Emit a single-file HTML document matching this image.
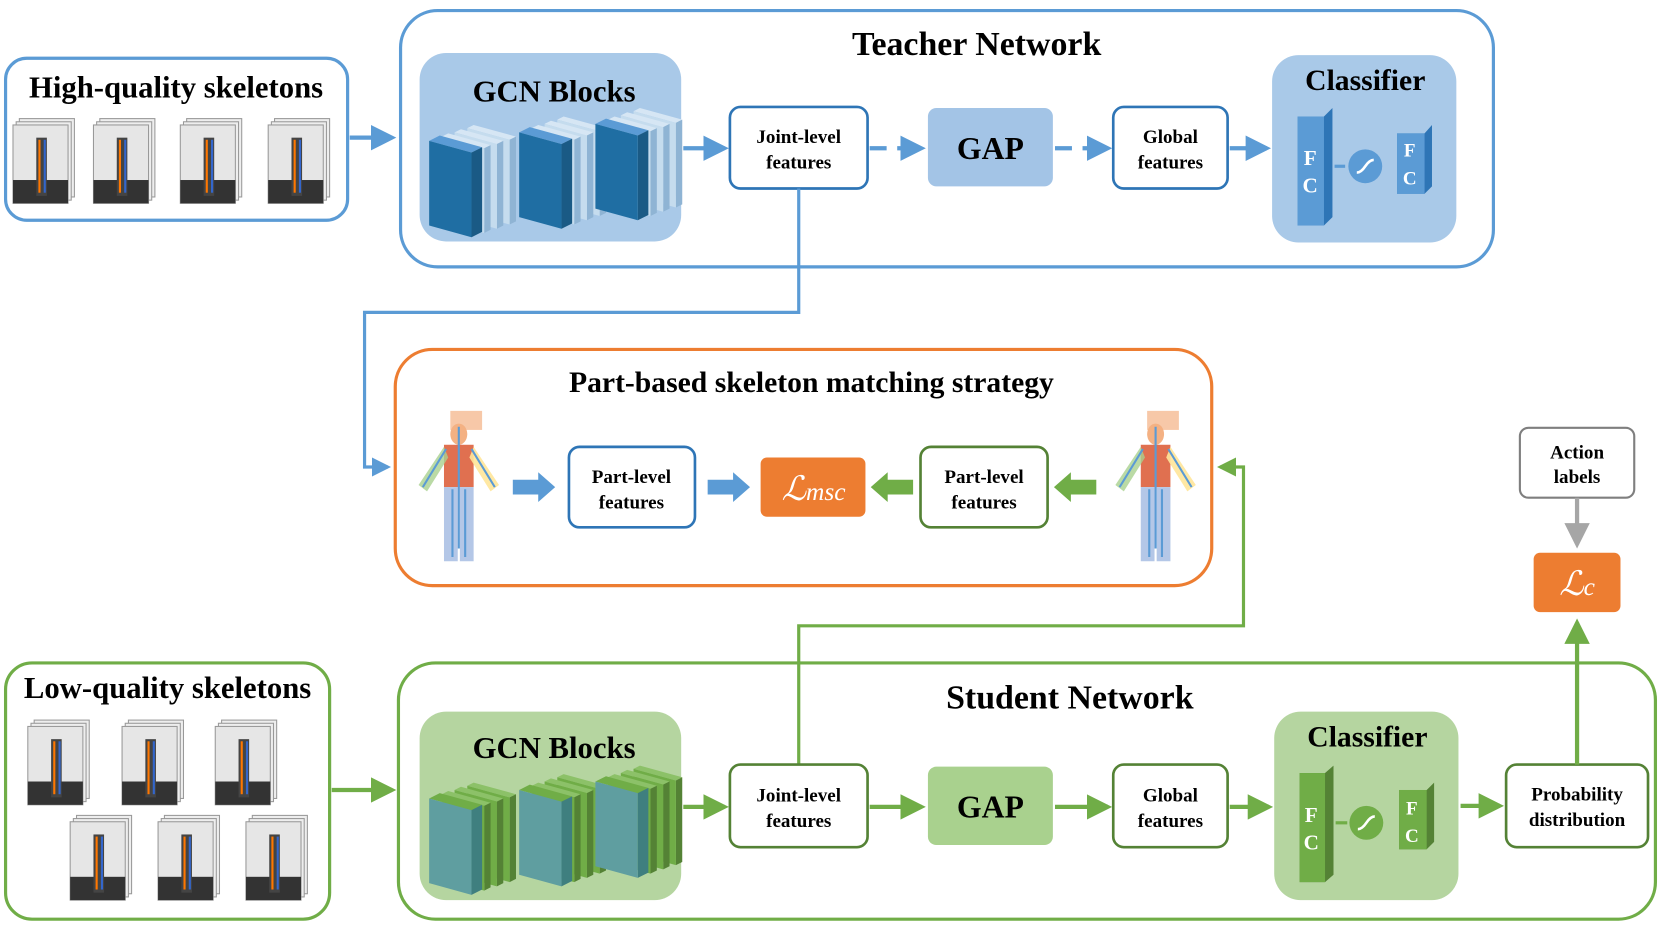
<!DOCTYPE html>
<html><head><meta charset="utf-8"><style>
html,body{margin:0;padding:0;background:#fff;width:1661px;height:934px;overflow:hidden}
text{font-family:"Liberation Serif",serif;font-weight:bold;fill:#000;text-anchor:middle}
</style></head><body>
<svg width="1661" height="934" viewBox="0 0 1568 882" xmlns="http://www.w3.org/2000/svg">
<defs>
<marker id="ab" markerWidth="6" markerHeight="6" refX="5" refY="3" orient="auto" markerUnits="strokeWidth"><path d="M0,0L6,3L0,6z" fill="#5b9bd5"/></marker>
<marker id="ag" markerWidth="6" markerHeight="6" refX="5" refY="3" orient="auto" markerUnits="strokeWidth"><path d="M0,0L6,3L0,6z" fill="#70ad47"/></marker>
<marker id="ay" markerWidth="6" markerHeight="6" refX="5" refY="3" orient="auto" markerUnits="strokeWidth"><path d="M0,0L6,3L0,6z" fill="#a6a6a6"/></marker>
<g id="thumb"><rect x="6" y="0" width="52" height="74" fill="#eee" stroke="#999"/><rect x="3" y="3" width="52" height="74" fill="#eee" stroke="#999"/><rect x="0" y="6" width="52" height="74" fill="#e6e6e6" stroke="#999"/><rect x="0" y="58" width="52" height="22" fill="#333"/><rect x="22" y="18" width="10" height="55" fill="#444"/><line x1="25" y1="20" x2="25" y2="70" stroke="#f70" stroke-width="2"/><line x1="30" y1="20" x2="30" y2="70" stroke="#36c" stroke-width="2"/></g>
<g id="slabB"><polygon points="0,0 6,-3 46,8 40,11" fill="#d6e6f4"/><polygon points="40,11 46,8 46,88 40,91" fill="#8fb4d4"/><polygon points="0,0 40,11 40,91 0,80" fill="#c5dcee"/></g>
<g id="blkB">
<use href="#slabB" x="36" y="-12"/><use href="#slabB" x="24" y="-8"/><use href="#slabB" x="12" y="-4"/>
<polygon points="0,0 10,-5 50,6 40,11" fill="#5b9bd5"/>
<polygon points="40,11 50,6 50,86 40,91" fill="#1a5a85"/>
<polygon points="0,0 40,11 40,91 0,80" fill="#1f6ea3"/>
</g>
<g id="slabG"><polygon points="0,0 6,-3 46,8 40,11" fill="#8cc168"/><polygon points="40,11 46,8 46,88 40,91" fill="#548235"/><polygon points="0,0 40,11 40,91 0,80" fill="#70ad47"/></g>
<g id="blkG">
<use href="#slabG" x="36" y="-12"/><use href="#slabG" x="24" y="-8"/><use href="#slabG" x="12" y="-4"/>
<polygon points="0,0 10,-5 50,6 40,11" fill="#70ad47"/>
<polygon points="40,11 50,6 50,86 40,91" fill="#3f7f7f"/>
<polygon points="0,0 40,11 40,91 0,80" fill="#5f9ea0"/>
</g>
<g id="body"><rect x="40" y="0" width="30" height="18" fill="#f4b183" opacity=".7"/><ellipse cx="48" cy="22" rx="8" ry="10" fill="#f4b183"/><rect x="34" y="32" width="28" height="40" fill="#e07050"/><path d="M34,34 L10,70 L18,76 L38,44z" fill="#a9d18e" opacity=".8"/><path d="M62,34 L86,70 L78,76 L58,44z" fill="#ffe699" opacity=".9"/><rect x="34" y="72" width="13" height="70" fill="#b4c7e7"/><rect x="49" y="72" width="13" height="70" fill="#b4c7e7"/><path d="M48,15 V130 M36,36 L14,72 M60,36 L82,72 M42,74 V138 M54,74 V138" stroke="#5b9bd5" stroke-width="2" fill="none"/></g>
</defs>

<!-- High quality -->
<rect x="5" y="55" width="323" height="153" rx="20" fill="#fff" stroke="#5b9bd5" stroke-width="3"/>
<text x="166" y="92" font-size="29">High-quality skeletons</text>
<use href="#thumb" x="12" y="112"/><use href="#thumb" x="88" y="112"/><use href="#thumb" x="170" y="112"/><use href="#thumb" x="253" y="112"/>
<line x1="330" y1="130" x2="370" y2="130" stroke="#5b9bd5" stroke-width="4" marker-end="url(#ab)"/>

<!-- Teacher -->
<rect x="378" y="10" width="1032" height="242" rx="35" fill="#fff" stroke="#5b9bd5" stroke-width="3"/>
<text x="922" y="52" font-size="32">Teacher Network</text>
<rect x="396" y="50" width="247" height="178" rx="25" fill="#a9c9e8"/>
<text x="523" y="96" font-size="29">GCN  Blocks</text>
<use href="#blkB" x="405" y="133"/><use href="#blkB" x="490" y="125"/><use href="#blkB" x="562" y="117"/>
<line x1="645" y1="140" x2="684" y2="140" stroke="#5b9bd5" stroke-width="4" marker-end="url(#ab)"/>
<rect x="689" y="101" width="130" height="77" rx="10" fill="#fff" stroke="#2e75b6" stroke-width="2.5"/>
<text x="754" y="135" font-size="18">Joint-level</text><text x="754" y="159" font-size="18">features</text>
<line x1="821" y1="140" x2="870" y2="140" stroke="#5b9bd5" stroke-width="4" stroke-dasharray="16,10" marker-end="url(#ab)"/>
<rect x="876" y="102" width="118" height="74" rx="8" fill="#a3c4e6"/><text x="935" y="150" font-size="30">GAP</text>
<line x1="996" y1="140" x2="1046" y2="140" stroke="#5b9bd5" stroke-width="4" stroke-dasharray="16,10" marker-end="url(#ab)"/>
<rect x="1051" y="101" width="108" height="77" rx="10" fill="#fff" stroke="#2e75b6" stroke-width="2.5"/>
<text x="1105" y="135" font-size="18">Global</text><text x="1105" y="159" font-size="18">features</text>
<line x1="1161" y1="140" x2="1196" y2="140" stroke="#5b9bd5" stroke-width="4" marker-end="url(#ab)"/>
<rect x="1201" y="52" width="174" height="177" rx="25" fill="#a9c9e8"/>
<text x="1289" y="85" font-size="28">Classifier</text>
<polygon points="1225,110 1250,110 1258,102 1258,205 1250,213 1225,213" fill="#2e75b6"/><rect x="1225" y="110" width="25" height="103" fill="#5b9bd5"/>
<text x="1237" y="156" font-size="20" style="fill:#fff">F</text><text x="1237" y="182" font-size="20" style="fill:#fff">C</text>
<line x1="1260" y1="157" x2="1270" y2="157" stroke="#5b9bd5" stroke-width="3"/>
<circle cx="1289" cy="157" r="16" fill="#5b9bd5"/><path d="M1281,163 q4,0 8,-6 q4,-6 8,-6" stroke="#fff" stroke-width="2.5" fill="none"/>
<polygon points="1319,126 1345,126 1352,118 1352,176 1345,183 1319,183" fill="#2e75b6"/><rect x="1319" y="126" width="26" height="57" fill="#5b9bd5"/>
<text x="1331" y="148" font-size="18" style="fill:#fff">F</text><text x="1331" y="174" font-size="18" style="fill:#fff">C</text>

<polyline points="754,178 754,295 344,295 344,441 366,441" fill="none" stroke="#5b9bd5" stroke-width="3" marker-end="url(#ab)"/>

<!-- Part -->
<rect x="373" y="330" width="771" height="223" rx="35" fill="#fff" stroke="#ed7d31" stroke-width="3"/>
<text x="766" y="370" font-size="28">Part-based skeleton matching strategy</text>
<use href="#body" x="385" y="388"/><use href="#body" x="1043" y="388"/>
<polygon points="484,453 508,453 508,446 524,460 508,474 508,467 484,467" fill="#5b9bd5"/>
<rect x="537" y="422" width="119" height="76" rx="10" fill="#fff" stroke="#2e75b6" stroke-width="2.5"/>
<text x="596" y="456" font-size="18">Part-level</text><text x="596" y="480" font-size="18">features</text>
<polygon points="668,453 692,453 692,446 708,460 692,474 692,467 668,467" fill="#5b9bd5"/>
<rect x="718" y="432" width="99" height="56" rx="6" fill="#ed7d31"/>
<text x="768" y="472" font-size="32" style="fill:#fff;font-style:italic;font-weight:normal">ℒ<tspan font-size="24">msc</tspan></text>
<polygon points="862,453 838,453 838,446 822,460 838,474 838,467 862,467" fill="#70ad47"/>
<rect x="869" y="422" width="120" height="76" rx="10" fill="#fff" stroke="#548235" stroke-width="2.5"/>
<text x="929" y="456" font-size="18">Part-level</text><text x="929" y="480" font-size="18">features</text>
<polygon points="1035,453 1011,453 1011,446 995,460 1011,474 1011,467 1035,467" fill="#70ad47"/>

<polyline points="754,722 754,591 1174,591 1174,441 1152,441" fill="none" stroke="#70ad47" stroke-width="3" marker-end="url(#ag)"/>

<rect x="1435" y="404" width="108" height="66" rx="8" fill="#fff" stroke="#7f7f7f" stroke-width="2"/>
<text x="1489" y="433" font-size="18">Action</text><text x="1489" y="456" font-size="18">labels</text>
<line x1="1489" y1="470" x2="1489" y2="514" stroke="#a6a6a6" stroke-width="4" marker-end="url(#ay)"/>
<rect x="1448" y="522" width="82" height="56" rx="6" fill="#ed7d31"/>
<text x="1489" y="562" font-size="32" style="fill:#fff;font-style:italic;font-weight:normal">ℒ<tspan font-size="24">c</tspan></text>

<!-- Low quality -->
<rect x="5" y="626" width="306" height="242" rx="25" fill="#fff" stroke="#70ad47" stroke-width="3"/>
<text x="158" y="659" font-size="29">Low-quality skeletons</text>
<use href="#thumb" x="26" y="680"/><use href="#thumb" x="115" y="680"/><use href="#thumb" x="203" y="680"/>
<use href="#thumb" x="66" y="770"/><use href="#thumb" x="149" y="770"/><use href="#thumb" x="232" y="770"/>
<line x1="313" y1="746" x2="370" y2="746" stroke="#70ad47" stroke-width="4" marker-end="url(#ag)"/>

<!-- Student -->
<rect x="376" y="626" width="1187" height="242" rx="35" fill="none" stroke="#70ad47" stroke-width="3"/>
<text x="1010" y="669" font-size="32">Student Network</text>
<rect x="396" y="672" width="247" height="178" rx="25" fill="#b5d5a0"/>
<text x="523" y="716" font-size="29">GCN  Blocks</text>
<use href="#blkG" x="405" y="754"/><use href="#blkG" x="490" y="746"/><use href="#blkG" x="562" y="738"/>
<line x1="645" y1="762" x2="684" y2="762" stroke="#70ad47" stroke-width="4" marker-end="url(#ag)"/>
<rect x="689" y="722" width="130" height="78" rx="10" fill="#fff" stroke="#548235" stroke-width="2.5"/>
<text x="754" y="757" font-size="18">Joint-level</text><text x="754" y="781" font-size="18">features</text>
<line x1="821" y1="762" x2="870" y2="762" stroke="#70ad47" stroke-width="4" marker-end="url(#ag)"/>
<rect x="876" y="724" width="118" height="74" rx="8" fill="#a9d18e"/><text x="935" y="772" font-size="30">GAP</text>
<line x1="996" y1="762" x2="1046" y2="762" stroke="#70ad47" stroke-width="4" marker-end="url(#ag)"/>
<rect x="1051" y="722" width="108" height="78" rx="10" fill="#fff" stroke="#548235" stroke-width="2.5"/>
<text x="1105" y="757" font-size="18">Global</text><text x="1105" y="781" font-size="18">features</text>
<line x1="1161" y1="762" x2="1198" y2="762" stroke="#70ad47" stroke-width="4" marker-end="url(#ag)"/>
<rect x="1203" y="672" width="174" height="178" rx="25" fill="#b5d5a0"/>
<text x="1291" y="705" font-size="28">Classifier</text>
<polygon points="1227,730 1251,730 1259,723 1259,826 1251,833 1227,833" fill="#548235"/><rect x="1227" y="730" width="24" height="103" fill="#70ad47"/>
<text x="1238" y="776" font-size="20" style="fill:#fff">F</text><text x="1238" y="802" font-size="20" style="fill:#fff">C</text>
<line x1="1261" y1="777" x2="1272" y2="777" stroke="#70ad47" stroke-width="3"/>
<circle cx="1290" cy="777" r="16" fill="#70ad47"/><path d="M1282,783 q4,0 8,-6 q4,-6 8,-6" stroke="#fff" stroke-width="2.5" fill="none"/>
<polygon points="1321,746 1347,746 1354,739 1354,795 1347,802 1321,802" fill="#548235"/><rect x="1321" y="746" width="26" height="56" fill="#70ad47"/>
<text x="1333" y="769" font-size="18" style="fill:#fff">F</text><text x="1333" y="795" font-size="18" style="fill:#fff">C</text>
<line x1="1379" y1="761" x2="1416" y2="761" stroke="#70ad47" stroke-width="4" marker-end="url(#ag)"/>
<rect x="1422" y="722" width="134" height="78" rx="10" fill="#fff" stroke="#548235" stroke-width="2.5"/>
<text x="1489" y="756" font-size="18">Probability</text><text x="1489" y="780" font-size="18">distribution</text>
<line x1="1489" y1="722" x2="1489" y2="588" stroke="#70ad47" stroke-width="4" marker-end="url(#ag)"/>
</svg>
</body></html>
